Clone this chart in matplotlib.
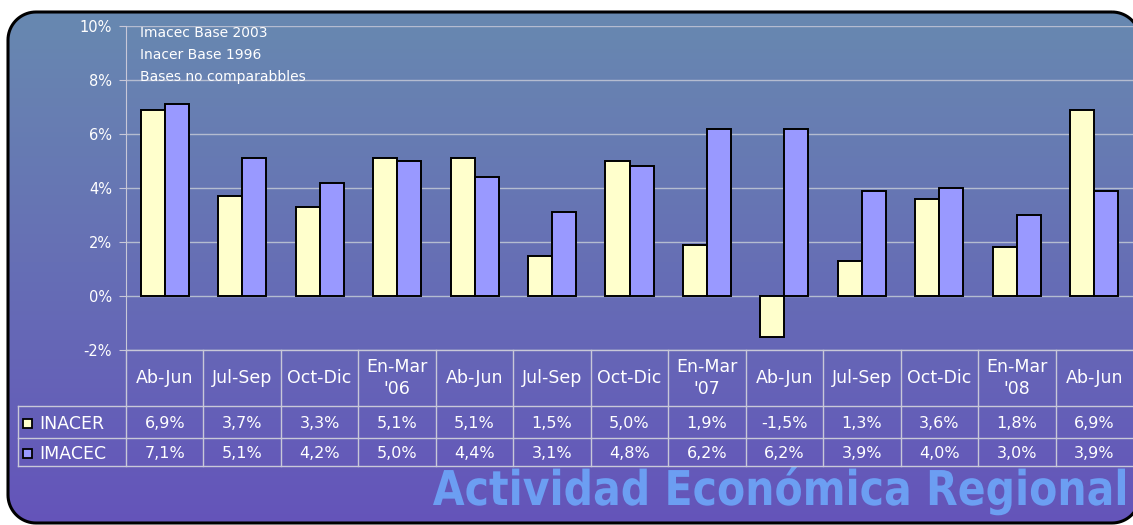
import numpy as np
import matplotlib
matplotlib.use('Agg')
import matplotlib.pyplot as plt
from matplotlib.patches import Polygon, Rectangle, PathPatch
from matplotlib.textpath import TextPath
from matplotlib.font_manager import FontProperties
from matplotlib.transforms import Affine2D

# data
periods = ['Ab-Jun', 'Jul-Sep', 'Oct-Dic', "En-Mar\n'06", 'Ab-Jun', 'Jul-Sep', 'Oct-Dic',
           "En-Mar\n'07", 'Ab-Jun', 'Jul-Sep', 'Oct-Dic', "En-Mar\n'08", 'Ab-Jun']
inacer = [6.9, 3.7, 3.3, 5.1, 5.1, 1.5, 5.0, 1.9, -1.5, 1.3, 3.6, 1.8, 6.9]
imacec = [7.1, 5.1, 4.2, 5.0, 4.4, 3.1, 4.8, 6.2, 6.2, 3.9, 4.0, 3.0, 3.9]
inacer_lbl = ['6,9%', '3,7%', '3,3%', '5,1%', '5,1%', '1,5%', '5,0%', '1,9%', '-1,5%', '1,3%', '3,6%', '1,8%', '6,9%']
imacec_lbl = ['7,1%', '5,1%', '4,2%', '5,0%', '4,4%', '3,1%', '4,8%', '6,2%', '6,2%', '3,9%', '4,0%', '3,0%', '3,9%']
notes = ['Imacec Base 2003', 'Inacer Base 1996', 'Bases no comparabbles']

W, H = 1133, 525
fig = plt.figure(figsize=(W / 100, H / 100), dpi=100)
fig.patch.set_facecolor('white')

# background overlay in pixel coords
bg = fig.add_axes([0, 0, 1, 1])
bg.set_xlim(0, W)
bg.set_ylim(H, 0)
bg.axis('off')

def rounded_rect(x0, y0, x1, y1, r):
    pts = []
    for cx, cy, a0 in [(x1 - r, y0 + r, -90), (x1 - r, y1 - r, 0), (x0 + r, y1 - r, 90), (x0 + r, y0 + r, 180)]:
        a = np.radians(np.linspace(a0, a0 + 90, 20))
        pts += list(zip(cx + r * np.cos(a), cy + r * np.sin(a)))
    return np.array(pts)

top_c = np.array([104, 138, 176]) / 255
bot_c = np.array([100, 84, 186]) / 255
t = np.linspace(0, 1, 256)[:, None, None]
grad = top_c * (1 - t) + bot_c * t
grad = np.repeat(grad, 2, axis=1)
im = bg.imshow(grad, extent=[0, W + 40, H, 0], aspect='auto', zorder=0)
box = Polygon(rounded_rect(8, 12, 1140, 523, 28), closed=True,
              facecolor='none', edgecolor='black', lw=2.2, zorder=5)
bg.add_patch(box)
im.set_clip_path(box)

# watermark
fp = FontProperties(family='DejaVu Sans', weight='bold')
tp = TextPath((0, 0), 'Actividad Económica Regional', size=100, prop=fp)
ext = tp.get_extents()
sx = (1125 - 433) / ext.width
sy = 35 / 73.0
tr = Affine2D().translate(-ext.x0, 0).scale(sx, -sy).translate(433, 505)
bg.add_patch(PathPatch(tr.transform_path(tp), facecolor='#6c9ef2', edgecolor='none', zorder=1))

# main plot axes
L, R, T, B = 126, 1133, 26, 350
colw = (R - L) / len(periods)
ax = fig.add_axes([L / W, 1 - B / H, (R - L) / W, (B - T) / H])
ax.patch.set_alpha(0)
x = np.arange(len(periods))
w = 0.31
ax.bar(x - w / 2, inacer, w, color='#FFFFCC', edgecolor='black', lw=1.4, zorder=3)
ax.bar(x + w / 2, imacec, w, color='#9999FF', edgecolor='black', lw=1.4, zorder=3)
ax.set_xlim(-0.5, len(periods) - 0.5)
ax.set_ylim(-2, 10)
ax.set_yticks(np.arange(-2, 11, 2))
ax.set_yticklabels(['%d%%' % v for v in range(-2, 11, 2)], color='white', fontsize=10.5)
ax.tick_params(axis='y', length=5, color='#c8c8d8', pad=5)
ax.set_xticks([])
ax.grid(axis='y', color='#b4bcd0', lw=1, zorder=0)
for s in ['top', 'right', 'bottom']:
    ax.spines[s].set_visible(False)
ax.spines['left'].set_color('#c8c8d8')
for i, n in enumerate(notes):
    ax.text(0.014, 0.979 - i * 0.068, n, transform=ax.transAxes, color='white',
            fontsize=10, va='center', ha='left')

# table
lc = '#c8c8d8'
y0, y1, y2, y3 = 350, 406, 438, 466
bg.plot([L, R], [y0, y0], color=lc, lw=1, zorder=2)
for yy in (y1, y2, y3):
    bg.plot([18, R], [yy, yy], color=lc, lw=1, zorder=2)
bg.plot([L, L], [y0, y3], color=lc, lw=1, zorder=2)
bg.plot([18, 18], [y1, y3], color=lc, lw=1, zorder=2)
for i in range(1, len(periods)):
    xb = L + i * colw
    bg.plot([xb, xb], [y0, y3], color=lc, lw=1, zorder=2)
for i, p in enumerate(periods):
    xc = L + (i + 0.5) * colw
    bg.text(xc, (y0 + y1) / 2, p, color='white', fontsize=12.5, ha='center', va='center',
            linespacing=1.25, zorder=3)
    bg.text(xc, (y1 + y2) / 2 + 1, inacer_lbl[i], color='white', fontsize=11.5,
            ha='center', va='center', zorder=3)
    bg.text(xc, (y2 + y3) / 2 + 1, imacec_lbl[i], color='white', fontsize=11.5,
            ha='center', va='center', zorder=3)
for yy, name, col in [((y1 + y2) / 2, 'INACER', '#FFFFCC'), ((y2 + y3) / 2, 'IMACEC', '#9999FF')]:
    bg.add_patch(Rectangle((23, yy - 3), 9, 9, facecolor=col, edgecolor='black', lw=1.3, zorder=3))
    bg.text(39, yy + 2, name, color='white', fontsize=12.5, ha='left', va='center', zorder=3)

fig.savefig('out.png', dpi=100)
